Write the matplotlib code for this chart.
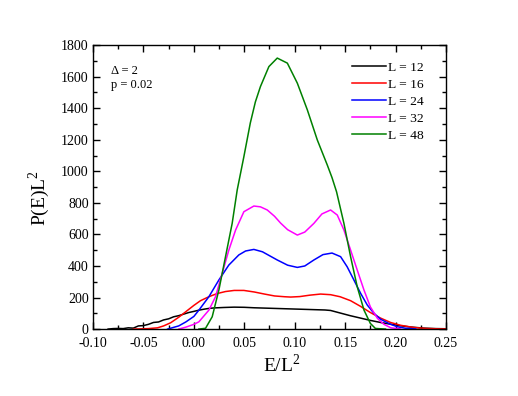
import matplotlib
matplotlib.use("Agg")
import matplotlib.pyplot as plt
from matplotlib.ticker import MultipleLocator, FormatStrFormatter

plt.rcParams['font.family'] = ['Liberation Serif', 'DejaVu Serif']
plt.rcParams['mathtext.fontset'] = 'custom'
plt.rcParams['mathtext.rm'] = 'Liberation Serif'

# values
x12 = [-0.085, -0.08, -0.075, -0.07, -0.065, -0.06, -0.055, -0.05, -0.045, -0.04,
       -0.035, -0.03, -0.025, -0.02, -0.015, -0.01, -0.005, 0.0, 0.005, 0.01,
       0.015, 0.02, 0.03, 0.04, 0.05, 0.06, 0.07, 0.08, 0.09, 0.10, 0.11, 0.12,
       0.13, 0.1356, 0.145, 0.155, 0.165, 0.175, 0.185, 0.195, 0.205, 0.215,
       0.228, 0.24, 0.25]
y12 = [0, 3, 4, 3, 8, 6, 20, 22, 30, 42,
       45, 58, 65, 78, 85, 95, 105, 112, 120, 126,
       131, 134, 137, 139, 138, 135, 133, 131, 129, 127, 125, 123,
       121, 118, 102, 85, 70, 55, 42, 31, 21, 13,
       6, 3, 2]

x16 = [-0.06, -0.045, -0.036, -0.03, -0.023, -0.015, -0.008, 0.0, 0.0066, 0.0149,
       0.023, 0.0314, 0.04, 0.0496, 0.06, 0.07, 0.08, 0.09, 0.096, 0.105,
       0.115, 0.1257, 0.1356, 0.145, 0.1554, 0.165, 0.175, 0.185, 0.195, 0.205,
       0.218, 0.23, 0.244, 0.25]
y16 = [0, 3, 8, 20, 40, 75, 110, 150, 180, 205,
       225, 238, 245, 245, 235, 222, 210, 205, 203, 206,
       215, 222, 218, 205, 180, 145, 105, 70, 42, 24,
       10, 4, 1, 0.5]

x24 = [-0.026, -0.015, -0.008, 0.0, 0.005, 0.0149, 0.0248, 0.0347, 0.0446, 0.0513,
       0.0595, 0.068, 0.0827, 0.093, 0.1026, 0.11, 0.119, 0.128, 0.137, 0.1455,
       0.152, 0.1587, 0.1654, 0.172, 0.1786, 0.1852, 0.1951, 0.2017, 0.21, 0.22]
y24 = [0, 20, 45, 80, 120, 205, 311, 406, 470, 495,
       505, 490, 438, 405, 391, 400, 438, 472, 482, 459,
       395, 311, 226, 152, 100, 62, 30, 15, 5, 1]

x32 = [-0.015, -0.008, 0.0, 0.005, 0.0149, 0.0215, 0.0281, 0.0347, 0.0414, 0.0496,
       0.0595, 0.066, 0.0728, 0.08, 0.086, 0.093, 0.1026, 0.11, 0.119, 0.127,
       0.1356, 0.1422, 0.1488, 0.1554, 0.162, 0.1687, 0.175, 0.182, 0.1885, 0.1954,
       0.205]
y32 = [0, 12, 30, 46, 120, 205, 353, 501, 628, 744,
       780, 775, 755, 715, 672, 630, 596, 615, 670, 730,
       755, 723, 628, 501, 374, 247, 141, 68, 30, 8,
       1]

x48 = [0.005, 0.0116, 0.0182, 0.0248, 0.0314, 0.038, 0.043, 0.0496, 0.056, 0.061,
       0.066, 0.0744, 0.0827, 0.0927, 0.1026, 0.1125, 0.1224, 0.1323, 0.137, 0.1415,
       0.1488, 0.1554, 0.162, 0.1687, 0.175, 0.18, 0.19]
y48 = [0, 5, 78, 247, 459, 670, 882, 1093, 1307, 1440,
       1537, 1664, 1718, 1686, 1559, 1390, 1199, 1040, 960, 870,
       670, 459, 268, 120, 36, 4, 0]

labels = ['L = 12', 'L = 16', 'L = 24', 'L = 32', 'L = 48']
colors = ['black', 'red', 'blue', 'magenta', 'green']
xs = [x12, x16, x24, x32, x48]
ys = [y12, y16, y24, y32, y48]

fig = plt.figure(figsize=(5.18, 3.96), dpi=100)
ax = fig.add_axes([0.1795, 0.169, 0.6815, 0.717])

for x, y, c, lab in zip(xs, ys, colors, labels):
    ax.plot(x, y, color=c, lw=1.1, label=lab)

ax.set_xlim(-0.10, 0.25)
ax.set_ylim(0, 1800)
ax.xaxis.set_major_locator(MultipleLocator(0.05))
ax.xaxis.set_minor_locator(MultipleLocator(0.025))
ax.xaxis.set_major_formatter(FormatStrFormatter('%.2f'))
ax.yaxis.set_major_locator(MultipleLocator(200))
ax.yaxis.set_minor_locator(MultipleLocator(100))
ax.tick_params(which='both', direction='in', top=True, right=True, labelsize=10)
ax.tick_params(which='major', length=5, width=1)
ax.tick_params(which='minor', length=3, width=1)
ax.tick_params(axis='x', pad=6)
ax.tick_params(axis='y', pad=3)
for s in ax.spines.values():
    s.set_linewidth(1)

ax.set_xlabel('E/L$^{2}$', fontsize=14)
ax.xaxis.set_label_coords(0.535, -0.085)
ax.set_ylabel('P(E)L$^{2}$', fontsize=14)
ax.yaxis.set_label_coords(-0.115, 0.46)

ax.text(0.05, 0.908, '\u0394 = 2', transform=ax.transAxes, fontsize=9, va='center')
ax.text(0.05, 0.859, 'p = 0.02', transform=ax.transAxes, fontsize=9, va='center')

ax.legend(loc='upper right', bbox_to_anchor=(0.9745, 0.9894), frameon=False,
          fontsize=9.7, handlelength=2.5, handletextpad=0.15, labelspacing=0.33,
          borderaxespad=0.7, borderpad=0.3)

fig.savefig('out.png', dpi=100)
